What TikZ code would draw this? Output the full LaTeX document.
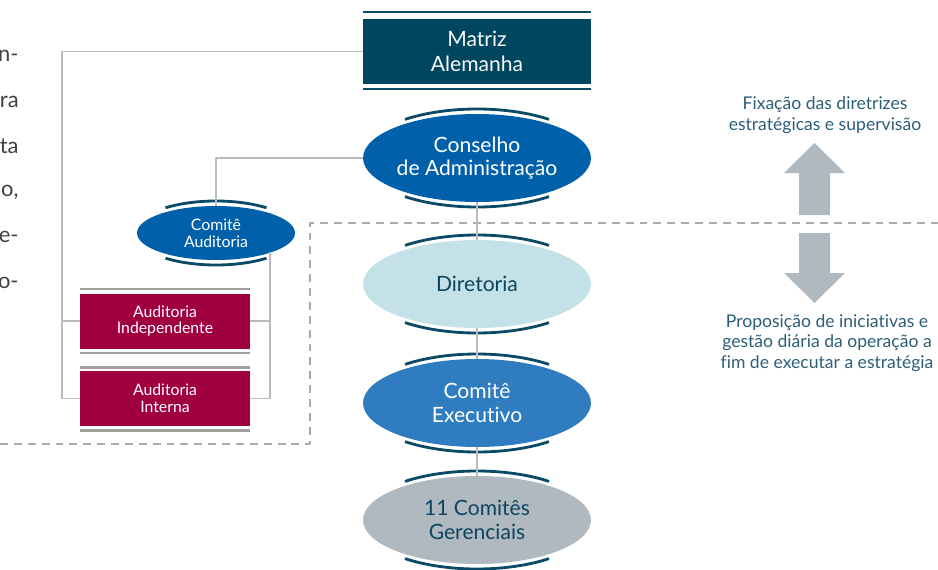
\documentclass[tikz,border=0pt]{standalone}
\usepackage{fontspec}
\setmainfont[Ligatures=NoCommon]{Lato}
\usetikzlibrary{shapes.geometric}

\definecolor{matriz}{HTML}{00465F}
\definecolor{azul}{HTML}{0061AA}
\definecolor{azulclaro}{HTML}{2F7DC0}
\definecolor{ciano}{HTML}{C3E1E7}
\definecolor{cinza}{HTML}{B1B9C0}
\definecolor{vinho}{HTML}{A00040}
\definecolor{borda}{HTML}{0A4A66}
\definecolor{textoesc}{HTML}{0D4560}
\definecolor{textolat}{HTML}{2C5E78}
\definecolor{linha}{HTML}{BBBBBB}
\definecolor{tracejado}{HTML}{ABABAB}

\begin{document}
\begin{tikzpicture}[x=0.02cm, y=-0.02cm, line join=round,
	oval/.style={ellipse, inner sep=0pt, minimum width=4.56cm, minimum height=1.76cm, align=center, font={\fontsize{12}{13.5}\selectfont}},
	ovalp/.style={ellipse, inner sep=0pt, minimum width=3.16cm, minimum height=1.08cm, align=center, fill=azul, text=white, font={\fontsize{9}{9.5}\selectfont}},
	caixa/.style={inner sep=0pt, minimum width=3.4cm, minimum height=1.1cm, align=center, fill=vinho, text=white, font={\fontsize{9}{9.5}\selectfont}},
	rim/.style={draw=borda, line width=1.6pt},
	conn/.style={draw=linha, line width=0.7pt},
	legenda/.style={align=center, text=textolat, font={\fontsize{10}{11.7}\selectfont}}]
	\useasboundingbox (0,0) rectangle (938,569);

	% texto cortado da pagina ao lado
	\foreach \t/\yy in {n-/56, ra/102, ta/146, {o,}/192, e-/237, o-/283}
		\node[anchor=east, inner sep=0pt, text=black!75, font={\fontsize{12.5}{13}\selectfont}] at (19,\yy) {\t};

	% linha tracejada
	\draw[tracejado, line width=1.1pt, dash pattern=on 4.5pt off 3.4pt] (0,444)--(310,444)--(310,223)--(938,223);

	% matriz
	\node[fill=matriz, text=white!85!ciano, inner sep=0pt, minimum width=4.56cm, minimum height=1.32cm, align=center, font={\fontsize{12}{14.3}\selectfont}] (mat) at (477,51.5) {Matriz\\Alemanha};
	\draw[borda, line width=1.7pt] (363,12)--(591,12) (363,89)--(591,89);

	% eixo central
	\node[oval, fill=azul, text=white] (cons) at (477,158) {Conselho\\de Administração};
	\node[oval, fill=ciano, text=textoesc] (dir) at (477,284) {Diretoria};
	\node[oval, fill=azulclaro, text=white] (exe) at (477,403) {Comitê\\Executivo};
	\node[oval, fill=cinza, text=textoesc] (ger) at (477,520) {11 Comitês\\Gerenciais};
	\foreach \n in {cons, dir, exe, ger}{
		\draw[rim] (\n.center) ++(52:117 and 49) arc[start angle=52, end angle=128, x radius=117, y radius=49];
		\draw[rim] (\n.center) ++(232:117 and 49) arc[start angle=232, end angle=308, x radius=117, y radius=49];
	}
	\draw[conn] (cons.south)--(dir.north) (dir.south)--(exe.north) (exe.south)--(ger.north);

	% auditoria
	\node[ovalp] (caud) at (216,233) {Comitê\\Auditoria};
	\draw[rim] (caud.center) ++(52:82 and 32) arc[start angle=52, end angle=128, x radius=82, y radius=32];
	\draw[rim] (caud.center) ++(232:82 and 32) arc[start angle=232, end angle=308, x radius=82, y radius=32];
	\node[caixa] (aind) at (165,321) {Auditoria\\Independente};
	\node[caixa] (aint) at (165,398.5) {Auditoria\\Interna};
	\draw[linha!85!black, line width=1.7pt] (80,289)--(250,289) (80,353)--(250,353)
		(80,367)--(250,367) (80,430)--(250,430);

	\coordinate (esq) at (62,398.5);
	\coordinate (dirt) at (270,398.5);
	\draw[conn] (mat.west) -| (esq) -- (aint.west);
	\draw[conn] (aind.west) -- (aind.west -| esq);
	\draw[conn] (cons.west) -| (caud.north);
	\draw[conn] (caud.-20) -| (dirt) -- (aint.east);
	\draw[conn] (aind.east) -- (aind.east -| dirt);

	% setas e legendas
	\fill[cinza] (799,215)--(799,173)--(784,173)--(814.5,143)--(845,173)--(830,173)--(830,215)--cycle;
	\fill[cinza] (799,233)--(799,273)--(784,273)--(814.5,303)--(845,273)--(830,273)--(830,233)--cycle;
	\node[legenda] (fix) at (825,115) {Fixação das diretrizes\\estratégicas e supervisão};
	\node[legenda] (prop) at (827,343) {Proposição de iniciativas e\\gestão diária da operação a\\fim de executar a estratégia};
\end{tikzpicture}
\end{document}
